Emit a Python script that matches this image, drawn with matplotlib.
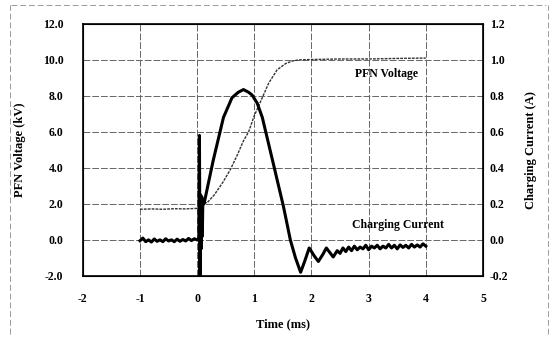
import matplotlib.pyplot as plt

plt.rcParams['font.family'] = 'Liberation Serif'
plt.rcParams['font.weight'] = 'bold'

# PFN voltage (kV), left axis
pfn_t = [-1.0, -0.8, -0.6, -0.4, -0.2, 0.0, 0.05, 0.06, 0.08, 0.12, 0.17, 0.3, 0.45,
         0.58, 0.7, 0.81, 0.9, 1.0, 1.14, 1.25, 1.4, 1.55, 1.68, 1.8, 2.0, 2.5, 3.0, 3.5, 4.0]
pfn_kv = [1.7, 1.72, 1.7, 1.73, 1.72, 1.75, 1.75, 2.3, 1.9, 2.1, 2.05, 2.5, 3.2,
          3.9, 4.7, 5.5, 6.0, 6.9, 7.9, 8.7, 9.45, 9.8, 9.95, 10.0, 10.02, 10.05, 10.05, 10.08, 10.1]

# Charging current (A), right axis
cur_t = [-1.0, -0.95, -0.9, -0.85, -0.8, -0.75, -0.7, -0.65, -0.6, -0.55, -0.5, -0.45,
         -0.4, -0.35, -0.3, -0.25, -0.2, -0.15, -0.1, -0.05, 0.0, 0.03, 0.04, 0.05, 0.06,
         0.07, 0.08, 0.09, 0.10, 0.12, 0.28, 0.46, 0.61, 0.72, 0.81, 0.9, 0.96, 1.05,
         1.14, 1.32, 1.51, 1.63, 1.72, 1.81, 1.88, 1.96, 2.05, 2.12, 2.2, 2.26, 2.32,
         2.38, 2.45, 2.5, 2.55, 2.6, 2.65, 2.7, 2.75, 2.8, 2.85, 2.9, 2.95, 3.0, 3.05,
         3.1, 3.15, 3.2, 3.25, 3.3, 3.35, 3.4, 3.45, 3.5, 3.55, 3.6, 3.65, 3.7, 3.75,
         3.8, 3.85, 3.9, 3.95, 4.0]
cur_a = [-0.005, 0.01, -0.01, 0.0, -0.012, 0.005, -0.008, 0.0, -0.01, 0.006, -0.006, 0.0,
         -0.01, 0.004, -0.008, 0.002, -0.006, 0.008, -0.004, 0.006, 0.0, 0.01, 0.58, -0.2, 0.25,
         -0.05, 0.24, 0.02, 0.22, 0.2, 0.44, 0.68, 0.79, 0.82, 0.835, 0.82, 0.805, 0.76,
         0.68, 0.44, 0.185, 0.0, -0.1, -0.18, -0.12, -0.045, -0.09, -0.12, -0.08, -0.045, -0.07,
         -0.095, -0.06, -0.075, -0.045, -0.065, -0.04, -0.06, -0.035, -0.055, -0.04, -0.05, -0.03,
         -0.055, -0.035, -0.045, -0.03, -0.05, -0.035, -0.045, -0.025, -0.045, -0.03, -0.05,
         -0.028, -0.042, -0.03, -0.045, -0.025, -0.04, -0.028, -0.04, -0.022, -0.035]

kv_ticks = [-2, 0, 2, 4, 6, 8, 10, 12]
amp_ticks = [-0.2, 0.0, 0.2, 0.4, 0.6, 0.8, 1.0, 1.2]
t_ticks = [-2, -1, 0, 1, 2, 3, 4, 5]

fig = plt.figure(figsize=(5.52, 3.41), dpi=100)

# faint scanned page frame
frame = dict(color='#999999', lw=0.7, ls=(0, (6, 3)), transform=fig.transFigure)
fig.add_artist(plt.Line2D([0.02, 0.99], [0.985, 0.985], **frame))
fig.add_artist(plt.Line2D([0.018, 0.018], [0.02, 0.985], **frame))
fig.add_artist(plt.Line2D([0.993, 0.993], [0.02, 0.985], **frame))

ax = fig.add_axes([0.150, 0.191, 0.725, 0.739])
ax2 = ax.twinx()

grid_style = dict(color='#666666', lw=0.7, ls=(0, (7, 2)))
for v in kv_ticks[1:-1]:
    ax.axhline(v, **grid_style, zorder=0)
for v in t_ticks[1:-1]:
    ax.axvline(v, **grid_style, zorder=0)

ax.plot(pfn_t, pfn_kv, color='#333333', lw=1.0, ls=(0, (2, 0.8)))
ax2.plot(cur_t, cur_a, color='black', lw=2.2)

ax.set_xlim(-2, 5)
ax.set_ylim(-2, 12)
ax2.set_ylim(-0.2, 1.2)
ax.set_xticks(t_ticks)
ax.set_xticklabels([str(v) for v in t_ticks])
ax.set_yticks(kv_ticks)
ax.set_yticklabels([f'{v:.1f}' for v in kv_ticks])
ax2.set_yticks(amp_ticks)
ax2.set_yticklabels([f'{v:.1f}' for v in amp_ticks])

ax.tick_params(axis='x', length=0, pad=12, labelsize=8.5)
ax.tick_params(axis='y', length=0, pad=14, labelsize=8.5)
ax2.tick_params(axis='y', length=0, pad=5, labelsize=8.5)

ax.set_xlabel('Time (ms)', fontsize=9, fontweight='bold', labelpad=10)
ax.set_ylabel('PFN Voltage (kV)', fontsize=9, fontweight='bold', labelpad=12)
ax2.set_ylabel('Charging Current (A)', fontsize=9, fontweight='bold', labelpad=12)

ax.text(3.32, 9.2, 'PFN Voltage', fontsize=8.5, fontweight='bold', ha='center', va='center')
ax.text(3.51, 0.83, 'Charging Current', fontsize=8.5, fontweight='bold', ha='center', va='center')

for sp in ax.spines.values():
    sp.set_linewidth(1.2)

plt.savefig('out.png', dpi=100)
